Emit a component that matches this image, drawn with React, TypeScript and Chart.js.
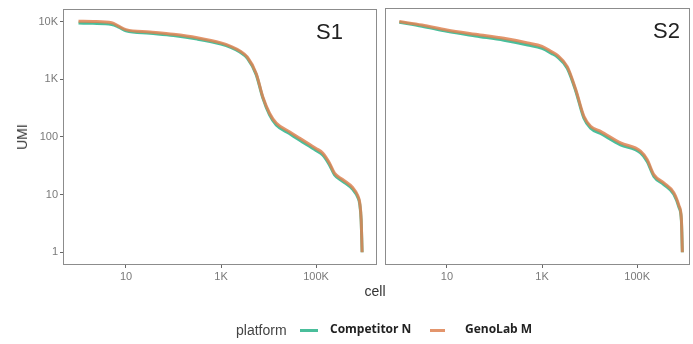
import React, { useEffect, useRef } from "react";
import { Chart, registerables } from "chart.js";

Chart.register(...registerables);

// Knee plots: UMI count per barcode, ranked from the highest to the lowest.
const TEAL = "rgba(64, 186, 150, 0.95)";
const ORANGE = "rgba(222, 130, 82, 0.85)";

const seriesNames = ["Competitor N", "GenoLab M"];

const s1Cells = [1, 2, 5, 7, 10, 32, 100, 316, 1000, 1600, 2500, 3600, 5500, 7600, 10500, 14500, 27500, 44700, 100000, 138000, 190500, 245000, 363000, 589000, 759000, 832000, 891000, 933000];
const s1Competitor = [9400, 9300, 8900, 8000, 6900, 6250, 5700, 4950, 4050, 3550, 2950, 2300, 1200, 470, 240, 160, 114, 88, 58, 48.5, 33, 22, 17, 12.3, 8.9, 6.8, 3.5, 1];
const s1GenoLab = [10100, 10000, 9550, 8300, 7240, 6610, 6030, 5250, 4270, 3720, 3090, 2400, 1260, 490, 257, 174, 123, 95.5, 63, 52.5, 35.5, 23.4, 18.2, 13.2, 9.5, 7.2, 3.7, 1];

const s2Cells = [1, 3, 10, 40, 158, 500, 1000, 1580, 2090, 3390, 5130, 7590, 10500, 17000, 44700, 117500, 162000, 224000, 363000, 589000, 759000, 851000, 891000];
const s2Competitor = [9500, 8100, 6600, 5500, 4650, 3850, 3350, 2750, 2400, 1520, 610, 208, 140, 113, 72, 52, 37, 20.5, 14.8, 10, 5.9, 3.5, 1];
const s2GenoLab = [9770, 8510, 7000, 5890, 5010, 4170, 3630, 2950, 2570, 1620, 646, 224, 151, 123, 77.6, 56, 40, 21.9, 15.8, 10.7, 6.3, 3.7, 1];

const yTicks = [1, 10, 100, 1000, 10000];
const yTickLabels = ["1", "10", "100", "1K", "10K"];
const xTicks = [10, 1000, 100000];
const xTickLabels = ["10", "1K", "100K"];

const AXIS_FONT = "'Liberation Sans', Arial, sans-serif";

type PanelProps = {
  title: string;
  cells: number[];
  competitor: number[];
  genolab: number[];
  showY: boolean;
  xMin: number;
  xMax: number;
  left: number;
  width: number;
  titleRightInset: number;
};

function toPoints(cells: number[], values: number[]) {
  return cells.map((c, i) => ({ x: c, y: values[i] }));
}

function Panel(props: PanelProps) {
  const ref = useRef<HTMLCanvasElement | null>(null);

  useEffect(() => {
    if (!ref.current) return;

    const panelFrame = {
      id: "panelFrame",
      afterDraw(chart: any) {
        const { ctx, chartArea } = chart;
        ctx.save();
        ctx.strokeStyle = "#8c8c8c";
        ctx.lineWidth = 1;
        ctx.strokeRect(
          Math.round(chartArea.left) + 0.5,
          Math.round(chartArea.top) + 0.5,
          Math.round(chartArea.right - chartArea.left) - 1,
          Math.round(chartArea.bottom - chartArea.top) - 1
        );
        ctx.fillStyle = "#222";
        ctx.font = `22px ${AXIS_FONT}`;
        ctx.textAlign = "right";
        ctx.textBaseline = "alphabetic";
        ctx.fillText(props.title, chartArea.right - props.titleRightInset, chartArea.top + 30);
        ctx.restore();
      },
    };

    // GenoLab M is listed first so that it is painted over Competitor N.
    const chart = new Chart(ref.current, {
      type: "line",
      data: {
        datasets: [
          {
            label: seriesNames[1],
            data: toPoints(props.cells, props.genolab),
            borderColor: ORANGE,
            borderWidth: 3,
            pointRadius: 0,
            cubicInterpolationMode: "monotone",
            fill: false,
          },
          {
            label: seriesNames[0],
            data: toPoints(props.cells, props.competitor),
            borderColor: TEAL,
            borderWidth: 3,
            pointRadius: 0,
            cubicInterpolationMode: "monotone",
            fill: false,
          },
        ],
      },
      options: {
        animation: false,
        responsive: false,
        maintainAspectRatio: false,
        events: [],
        layout: { padding: { top: 8, right: 3, left: props.showY ? 0 : 5, bottom: 0 } },
        plugins: { legend: { display: false }, tooltip: { enabled: false } },
        scales: {
          x: {
            type: "logarithmic",
            min: props.xMin,
            max: props.xMax,
            border: { display: false },
            grid: { display: true, drawOnChartArea: false, tickLength: 3, color: "#666", lineWidth: 1 },
            ticks: {
              color: "#7a7a7a",
              font: { family: AXIS_FONT, size: 11 },
              padding: 2,
              maxRotation: 0,
              autoSkip: false,
              callback: (v: any) => {
                const i = xTicks.indexOf(Number(v));
                return i >= 0 ? xTickLabels[i] : "";
              },
            },
            afterBuildTicks: (scale: any) => {
              scale.ticks = xTicks.map((v) => ({ value: v }));
            },
            afterFit: (scale: any) => {
              scale.height = 25;
            },
          },
          y: {
            type: "logarithmic",
            display: props.showY,
            min: 0.62,
            max: 16750,
            border: { display: false },
            grid: { display: true, drawOnChartArea: false, tickLength: 3, color: "#666", lineWidth: 1 },
            ticks: {
              color: "#7a7a7a",
              font: { family: AXIS_FONT, size: 11 },
              padding: 2,
              autoSkip: false,
              callback: (v: any) => {
                const i = yTicks.indexOf(Number(v));
                return i >= 0 ? yTickLabels[i] : "";
              },
            },
            afterBuildTicks: (scale: any) => {
              scale.ticks = yTicks.map((v) => ({ value: v }));
            },
            afterFit: (scale: any) => {
              scale.width = props.showY ? 63 : 0;
            },
          },
        },
      },
      plugins: [panelFrame],
    });

    return () => chart.destroy();
  }, []);

  return (
    <canvas
      ref={ref}
      width={props.width}
      height={290}
      style={{ position: "absolute", left: props.left, top: 0, width: props.width, height: 290 }}
    />
  );
}

const textBase: React.CSSProperties = {
  position: "absolute",
  whiteSpace: "nowrap",
  lineHeight: 1,
};

export default function App() {
  return (
    <div
      style={{
        position: "absolute",
        left: 0,
        top: 0,
        width: 693,
        height: 344,
        background: "#fff",
        overflow: "hidden",
      }}
    >
      <Panel
        title="S1"
        cells={s1Cells}
        competitor={s1Competitor}
        genolab={s1GenoLab}
        showY={true}
        xMin={0.472}
        xMax={1920000}
        left={0}
        width={380}
        titleRightInset={34}
      />
      <Panel
        title="S2"
        cells={s2Cells}
        competitor={s2Competitor}
        genolab={s2GenoLab}
        showY={false}
        xMin={0.5}
        xMax={1290000}
        left={380}
        width={313}
        titleRightInset={10}
      />

      <div
        style={{
          ...textBase,
          left: 22,
          top: 137,
          transform: "translate(-50%, -50%) rotate(-90deg)",
          fontFamily: AXIS_FONT,
          fontSize: 14,
          color: "#333",
        }}
      >
        UMI
      </div>
      <div
        style={{
          ...textBase,
          left: 375,
          top: 291,
          transform: "translate(-50%, -50%)",
          fontFamily: AXIS_FONT,
          fontSize: 14,
          color: "#333",
        }}
      >
        cell
      </div>

      <div
        style={{
          ...textBase,
          left: 236,
          top: 330,
          transform: "translate(0, -50%)",
          fontFamily: AXIS_FONT,
          fontSize: 14,
          color: "#444",
        }}
      >
        platform
      </div>
      <div style={{ position: "absolute", left: 300, top: 329, width: 18, height: 3, background: TEAL }} />
      <div
        style={{
          ...textBase,
          left: 330,
          top: 329,
          transform: "translate(0, -50%)",
          fontFamily: "'Open Sans', sans-serif",
          fontWeight: 700,
          fontSize: 12,
          color: "#222",
        }}
      >
        {seriesNames[0]}
      </div>
      <div style={{ position: "absolute", left: 430, top: 329, width: 15, height: 3, background: ORANGE }} />
      <div
        style={{
          ...textBase,
          left: 465,
          top: 329,
          transform: "translate(0, -50%)",
          fontFamily: "'Open Sans', sans-serif",
          fontWeight: 700,
          fontSize: 12,
          color: "#222",
        }}
      >
        {seriesNames[1]}
      </div>
    </div>
  );
}
